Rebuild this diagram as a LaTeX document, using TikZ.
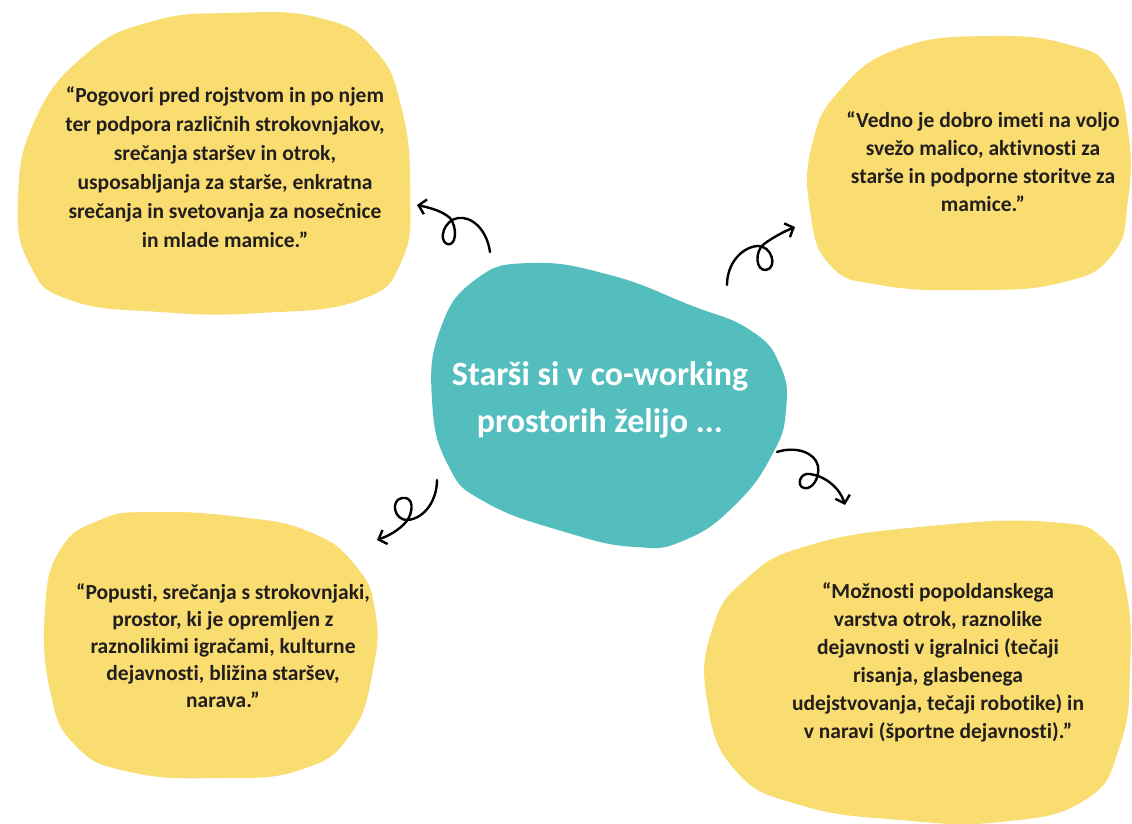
\documentclass[tikz,border=0pt]{standalone}
\usepackage{fontspec}
\setmainfont{Carlito}[Ligatures={NoCommon,NoContextual}]
\usetikzlibrary{arrows.meta}

\definecolor{blobyellow}{RGB}{249,221,112}
\definecolor{blobteal}{RGB}{84,190,190}
\definecolor{quoteink}{RGB}{34,30,30}

\begin{document}
\begin{tikzpicture}[x=1pt,y=-1pt,
  quote/.style={align=center, inner sep=0pt, text=quoteink,
    font=\bfseries\fontsize{21.5}{28}\selectfont},
  curl/.style={line width=2.4pt, line cap=round, line join=round,
    -{Straight Barb[length=7pt,width=15pt]}}]
\useasboundingbox (0,0) rectangle (1132,824);
\fill [white] (0,0) rectangle (1132,824);

% blobs
\fill [blobyellow] plot [smooth cycle, tension=0.8] coordinates
  {(230,13) (320,18) (375,50) (402,110) (410,190) (402,260) (360,300) (260,313)
   (160,312) (70,300) (30,265) (18,200) (35,120) (85,55) (150,22)};
\fill [blobyellow] plot [smooth cycle, tension=0.8] coordinates
  {(990,36) (1070,45) (1110,70) (1128,130) (1128,200) (1112,255) (1060,283)
   (970,290) (880,285) (830,265) (810,210) (812,145) (840,90) (900,48)};
\fill [blobyellow] plot [smooth cycle, tension=0.8] coordinates
  {(150,512) (240,517) (310,532) (355,565) (375,610) (373,670) (350,735) (300,770)
   (220,778) (130,772) (75,745) (50,690) (45,610) (60,550) (100,520)};
\fill [blobyellow] plot [smooth cycle, tension=0.8] coordinates
  {(1050,522) (1105,540) (1126,590) (1130,670) (1120,745) (1085,800) (1000,822)
   (900,820) (800,805) (735,770) (707,700) (712,630) (745,580) (810,545) (930,526)};
\fill [blobteal] plot [smooth cycle, tension=0.8] coordinates
  {(530,263) (610,275) (690,305) (750,330) (780,365) (786,410) (772,455) (735,505)
   (685,540) (635,547) (565,532) (485,502) (448,465) (432,400) (440,330) (475,280)};

% texts
\node [align=center, inner sep=0pt, text=white,
  font=\bfseries\fontsize{34}{47}\selectfont] (centre) at (600,400)
  {Starši si v co-working\\prostorih želijo ...};

\node [quote, font=\bfseries\fontsize{21.5}{29}\selectfont] (pogovori) at (225,167.5)
  {“Pogovori pred rojstvom in po njem\\ter podpora različnih strokovnjakov,\\
   srečanja staršev in otrok,\\usposabljanja za starše, enkratna\\
   srečanja in svetovanja za nosečnice\\in mlade mamice.”};
\node [quote] (vedno) at (983,162)
  {“Vedno je dobro imeti na voljo\\svežo malico, aktivnosti za\\
   starše in podporne storitve za\\mamice.”};
\node [quote, font=\bfseries\fontsize{21.5}{27}\selectfont] (popusti) at (223,646)
  {“Popusti, srečanja s strokovnjaki,\\prostor, ki je opremljen z\\
   raznolikimi igračami, kulturne\\dejavnosti, bližina staršev,\\narava.”};
\node [quote] (moznosti) at (938,662.5)
  {“Možnosti popoldanskega\\varstva otrok, raznolike\\
   dejavnosti v igralnici (tečaji\\risanja, glasbenega\\
   udejstvovanja, tečaji robotike) in\\v naravi (športne dejavnosti).”};

% curly arrows
\coordinate (tl tail) at (490,252);  \coordinate (tl tip) at (417,205);
\coordinate (tr tail) at (727,285);  \coordinate (tr tip) at (795,227);
\coordinate (bl tail) at (437,480);  \coordinate (bl tip) at (377,540);
\coordinate (br tail) at (777,452);  \coordinate (br tip) at (845,505);

\draw [curl] (tl tail) .. controls (487,230) and (472,216) .. (458,218)
  .. controls (444,220) and (438,240) .. (447,244)
  .. controls (456,247) and (458,228) .. (450,218)
  .. controls (442,211) and (431,208) .. (tl tip);
\draw [curl] (tr tail) .. controls (727,265) and (740,248) .. (757,246)
  .. controls (772,245) and (778,268) .. (766,270)
  .. controls (756,271) and (754,252) .. (764,244)
  .. controls (772,238) and (783,232) .. (tr tip);
\draw [curl] (bl tail) .. controls (437,500) and (425,518) .. (408,520)
  .. controls (394,521) and (390,500) .. (402,498)
  .. controls (414,496) and (414,512) .. (406,522)
  .. controls (398,531) and (388,536) .. (bl tip);
\draw [curl] (br tail) .. controls (795,446) and (815,452) .. (818,466)
  .. controls (820,478) and (812,490) .. (804,488)
  .. controls (796,486) and (800,472) .. (810,474)
  .. controls (825,476) and (840,488) .. (br tip);
\end{tikzpicture}
\end{document}
